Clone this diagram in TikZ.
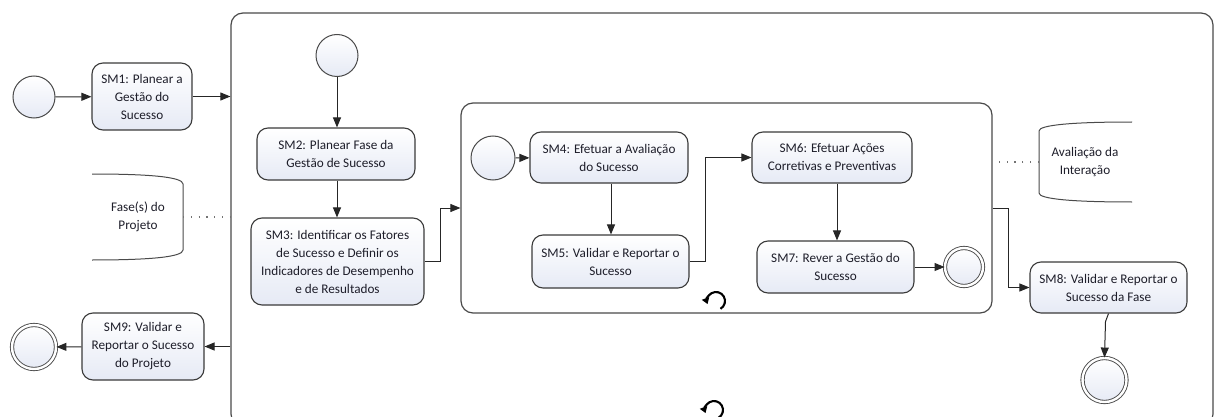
\documentclass[tikz,border=0pt]{standalone}
\usepackage{fontspec}
\setmainfont{Carlito}
\usetikzlibrary{arrows.meta}
\definecolor{ink}{HTML}{1E1E2A}
\definecolor{edge}{HTML}{3A3A3A}
\definecolor{pale}{HTML}{E6EAF5}
\definecolor{frame}{HTML}{4A4A4A}
\begin{document}
\begin{tikzpicture}[x=1pt,y=-1pt,
  every node/.style={font=\fontsize{13.2}{18}\selectfont, text=ink},
  task/.style={draw=edge, line width=1.1pt, rounded corners=11pt, align=center,
    top color=white, bottom color=pale, inner sep=0pt},
  startev/.style={circle, draw=frame, line width=1pt, top color=white, bottom color=pale,
    inner sep=0pt, minimum size=#1},
  endev/.style={circle, draw=frame, line width=0.9pt, double=white, double distance=2.4pt,
    top color=white, bottom color=pale, inner sep=0pt, minimum size=#1},
  container/.style={draw=frame, line width=1.2pt, rounded corners=12pt, inner sep=0pt},
  flow/.style={draw=black!85, line width=1pt, -{Triangle[length=10pt,width=8pt]}},
  assoc/.style={draw=black!55, line width=1.1pt, dash pattern=on 1.2pt off 6.6pt},
  annot/.style={draw=frame, line width=1pt},
  loopmark/.pic={\draw[line width=2.1pt, -{Triangle[length=6pt,width=7.5pt]}]
    (60:9) arc (60:-200:9);}
]
\useasboundingbox (0,0) rectangle (1215,417);

% sub-process frames
\node[container, minimum width=982pt, minimum height=413pt] (outer) at (722,219.5) {};
\node[container, minimum width=531pt, minimum height=210pt] (inner) at (726.5,208) {};

% events
\node[startev=42pt] (s0) at (34,97) {};
\node[startev=42pt] (s1) at (337,55.5) {};
\node[startev=44pt] (s2) at (493,158) {};
\node[endev=38pt]   (e1) at (964,267) {};
\node[endev=44pt]   (e2) at (34,347) {};
\node[endev=44pt]   (e3) at (1104.5,380) {};

% activities
\node[task, minimum width=100pt, minimum height=67pt] (sm1) at (142,96.5) {SM1: Planear a\\Gestão do\\Sucesso};
\node[task, minimum width=122pt, minimum height=67pt] (sm9) at (143,346.5) {SM9: Validar e\\Reportar o Sucesso\\do Projeto};
\node[task, minimum width=158pt, minimum height=52pt] (sm2) at (336,154) {SM2: Planear Fase da\\Gestão de Sucesso};
\node[task, minimum width=173pt, minimum height=87pt] (sm3) at (337.5,261.5) {SM3: Identificar os Fatores\\de Sucesso e Definir os\\Indicadores de Desempenho\\e de Resultados};
\node[task, minimum width=158pt, minimum height=51pt] (sm4) at (609,157.5) {SM4: Efetuar a Avaliação\\do Sucesso};
\node[task, minimum width=157pt, minimum height=53pt] (sm5) at (610.5,261.5) {SM5: Validar e Reportar o\\Sucesso};
\node[task, minimum width=160pt, minimum height=51pt] (sm6) at (832,157.5) {SM6: Efetuar Ações\\Corretivas e Preventivas};
\node[task, minimum width=157pt, minimum height=52pt] (sm7) at (835.5,267) {SM7: Rever a Gestão do\\Sucesso};
\node[task, minimum width=157pt, minimum height=51pt] (sm8) at (1108.5,287.5) {SM8: Validar e Reportar o\\Sucesso da Fase};

% text annotations
\draw[annot] (92,174) .. controls (150,174) and (183,177) .. (183,184)
  -- (183,250) .. controls (183,257) and (150,260) .. (92,260);
\node[align=center] (ann1) at (138,217) {Fase(s) do\\Projeto};
\draw[annot] (1132,122) .. controls (1072,122) and (1039,125) .. (1039,131)
  -- (1039,193) .. controls (1039,199) and (1072,202) .. (1132,202);
\node[align=center] (ann2) at (1085,162) {Avaliação da\\Interação};
\coordinate (a1) at (183,217);
\coordinate (a2) at (1039,162);
\draw[assoc] (a1) -- (a1 -| outer.west);
\draw[assoc] (a2) -- ([xshift=6pt]a2 -| inner.east);

% sequence flows
\draw[flow] (s0) -- (sm1);
\draw[flow] (sm1.east) -- (sm1.east -| outer.west);
\draw[flow] (sm9.east -| outer.west) -- (sm9.east);
\draw[flow] (sm9) -- (e2);
\draw[flow] (s1.south) -- (s1.south |- sm2.north);
\draw[flow] (sm2.south -| s1) -- (sm3.north -| s1);
\draw[flow] (sm3.east) -- ++(16,0) |- (inner.west);
\draw[flow] (s2) -- (sm4);
\draw[flow] ([xshift=2pt]sm4.south) -- ([xshift=2pt]sm4.south |- sm5.north);
\draw[flow] (sm5.east) -- ++(16,0) |- (sm6.west);
\draw[flow] ([xshift=5pt]sm6.south) -- ([xshift=5pt]sm6.south |- sm7.north);
\draw[flow] (sm7) -- (e1);
\draw[flow] (inner.east) -- ++(16,0) |- (sm8.west);
\draw[flow] (sm8.south) -- ++(-3,8) -- (e3.north);

% loop markers
\pic at (716,301) {loopmark};
\pic at (714,410) {loopmark};
\end{tikzpicture}
\end{document}
